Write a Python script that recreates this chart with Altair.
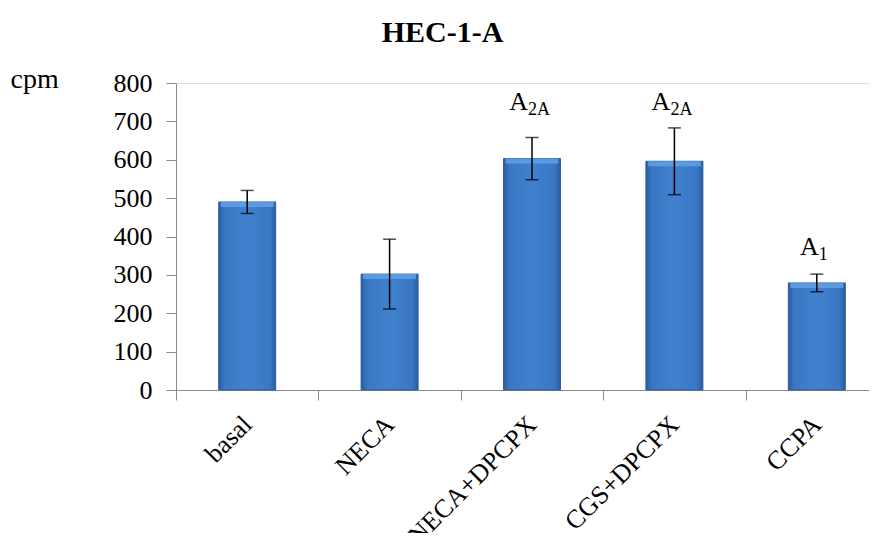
import altair as alt
import pandas as pd

categories = ["basal", "NECA", "NECA+DPCPX", "CGS+DPCPX", "CCPA"]
values = [490, 302, 603, 596, 279]
errors = [30, 91, 55, 87, 23]
label_main = ["", "", "A", "A", "A"]
label_sub = ["", "", "2A", "2A", "1"]
label_y = [None, None, 730, 730, 352]
y_ticks = [0, 100, 200, 300, 400, 500, 600, 700, 800]

df = pd.DataFrame({
    "cat": categories,
    "val": values,
    "err": errors,
    "lab": label_main,
    "sub": label_sub,
    "laby": label_y,
})

FONT = "Liberation Serif"

x_axis = alt.Axis(
    title=None,
    labelAngle=-45,
    labelAlign="right",
    labelBaseline="middle",
    labelFont=FONT,
    labelFontSize=26,
    labelColor="#000000",
    labelPadding=20,
    tickBand="extent",
    tickSize=10,
    tickColor="#8c8c8c",
    domainColor="#8c8c8c",
    grid=False,
)
x_scale = alt.Scale(range=[0, 712], paddingInner=0, paddingOuter=0)


def X():
    return alt.X("cat:N", sort=categories, scale=x_scale, axis=x_axis)


y_scale = alt.Scale(domain=[0, 800], nice=False)
y_axis = alt.Axis(
    title="cpm",
    titleAngle=0,
    titleAlign="left",
    titleBaseline="alphabetic",
    titleX=-166,
    titleY=4,
    titleFont=FONT,
    titleFontSize=28,
    titleFontWeight="normal",
    titleColor="#000000",
    values=y_ticks,
    labelFont=FONT,
    labelFontSize=26,
    labelColor="#000000",
    labelPadding=14,
    labelOverlap=False,
    tickSize=10,
    tickColor="#8c8c8c",
    domainColor="#8c8c8c",
    grid=False,
)


def Y(field):
    return alt.Y(field, scale=y_scale, axis=y_axis)


base = alt.Chart(df)

bar_grad = alt.Gradient(
    gradient="linear",
    x1=0, x2=1, y1=0, y2=0,
    stops=[
        alt.GradientStop(offset=0, color="#2a5c9c"),
        alt.GradientStop(offset=0.1, color="#3a77c2"),
        alt.GradientStop(offset=0.5, color="#4081cf"),
        alt.GradientStop(offset=0.9, color="#3a77c2"),
        alt.GradientStop(offset=1, color="#2a5c9c"),
    ],
)

bars = base.mark_bar(size=57, fill=bar_grad, stroke="#2d5f9f", strokeWidth=1).encode(
    x=X(),
    y=Y("val:Q"),
)

bevel = base.transform_calculate(top2="datum.val - 13").mark_bar(
    size=53, color="#62a0e4", opacity=0.85
).encode(
    x=X(),
    y=Y("val:Q"),
    y2="top2:Q",
)

err = base.transform_calculate(
    lo="datum.val - datum.err", hi="datum.val + datum.err"
)

rules = err.mark_rule(color="#000000", strokeWidth=1.5).encode(
    x=X(),
    y=Y("lo:Q"),
    y2="hi:Q",
)
cap_hi = err.mark_tick(color="#000000", size=13, thickness=1.5).encode(
    x=X(), y=Y("hi:Q")
)
cap_lo = err.mark_tick(color="#000000", size=13, thickness=1.5).encode(
    x=X(), y=Y("lo:Q")
)

lab_a2a = base.transform_filter("datum.sub == '2A'")
lab_a1 = base.transform_filter("datum.sub == '1'")

a2a_main = lab_a2a.mark_text(
    font=FONT, fontSize=26, align="right", baseline="alphabetic", dx=-4, color="#000000"
).encode(x=X(), y=Y("laby:Q"), text="lab:N")
a2a_sub = lab_a2a.mark_text(
    font=FONT, fontSize=18, align="left", baseline="alphabetic", dx=-4, dy=5, color="#000000"
).encode(x=X(), y=Y("laby:Q"), text="sub:N")
a1_main = lab_a1.mark_text(
    font=FONT, fontSize=26, align="right", baseline="alphabetic", dx=2, color="#000000"
).encode(x=X(), y=Y("laby:Q"), text="lab:N")
a1_sub = lab_a1.mark_text(
    font=FONT, fontSize=18, align="left", baseline="alphabetic", dx=2, dy=5, color="#000000"
).encode(x=X(), y=Y("laby:Q"), text="sub:N")

chart = alt.layer(
    bars, bevel, rules, cap_hi, cap_lo, a2a_main, a2a_sub, a1_main, a1_sub
).properties(
    width=693,
    height=307,
    autosize=alt.AutoSizeParams(type="none"),
    padding={"left": 168, "top": 75, "right": 0, "bottom": 143},
    title=alt.TitleParams(
        "HEC-1-A",
        font=FONT,
        fontSize=30,
        fontWeight="bold",
        color="#000000",
        anchor="middle",
        dx=-80,
        dy=27,
        baseline="alphabetic",
        offset=20,
    ),
).configure_view(stroke=None).configure(background="#ffffff")

chart.save("out.html", embed_options={"renderer": "svg", "actions": False})
